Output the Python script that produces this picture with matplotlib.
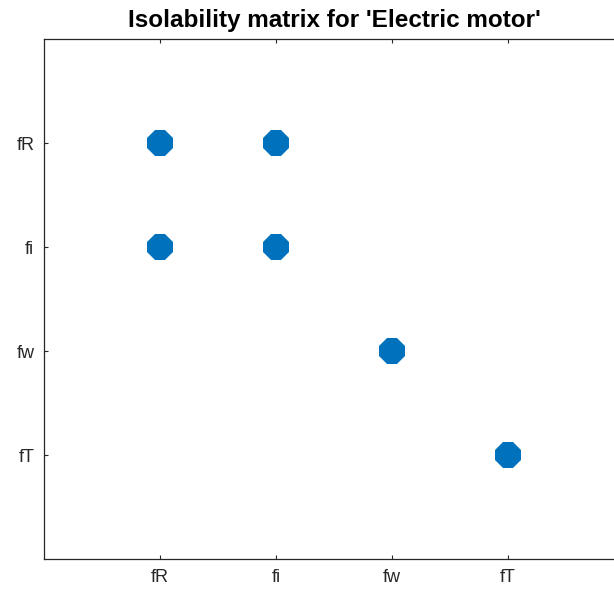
import matplotlib
matplotlib.use('Agg')
import matplotlib.pyplot as plt

faults = ['fR', 'fi', 'fw', 'fT']
# isolability matrix entries: (row fault, column fault)
rows = ['fR', 'fR', 'fi', 'fi', 'fw', 'fT']
cols = ['fR', 'fi', 'fR', 'fi', 'fw', 'fT']

plt.rcParams['font.family'] = ['Liberation Sans', 'DejaVu Sans']

fig = plt.figure(figsize=(6.14, 5.92), dpi=100)
ax = fig.add_axes([44 / 614, 1 - 559 / 592, 580 / 614, 520 / 592])

pos = {f: i + 1 for i, f in enumerate(faults)}
ax.plot([pos[c] for c in cols], [pos[r] for r in rows], linestyle='none',
        marker='8', markersize=19.5, color='#0072BD', markeredgewidth=0)

ax.set_xlim(0, len(faults) + 1)
ax.set_ylim(len(faults) + 1, 0)
ax.set_xticks(range(1, len(faults) + 1))
ax.set_xticklabels(faults)
ax.set_yticks(range(1, len(faults) + 1))
ax.set_yticklabels(faults)
ax.tick_params(direction='in', length=3, width=0.8, color='#262626',
               labelsize=13, labelcolor='#262626', top=True, right=True, pad=7)
for s in ax.spines.values():
    s.set_color('#262626')
    s.set_linewidth(0.9)

ax.set_title("Isolability matrix for 'Electric motor'", fontsize=17.5,
             fontweight='bold', pad=9)

fig.savefig('out.png', dpi=100)
